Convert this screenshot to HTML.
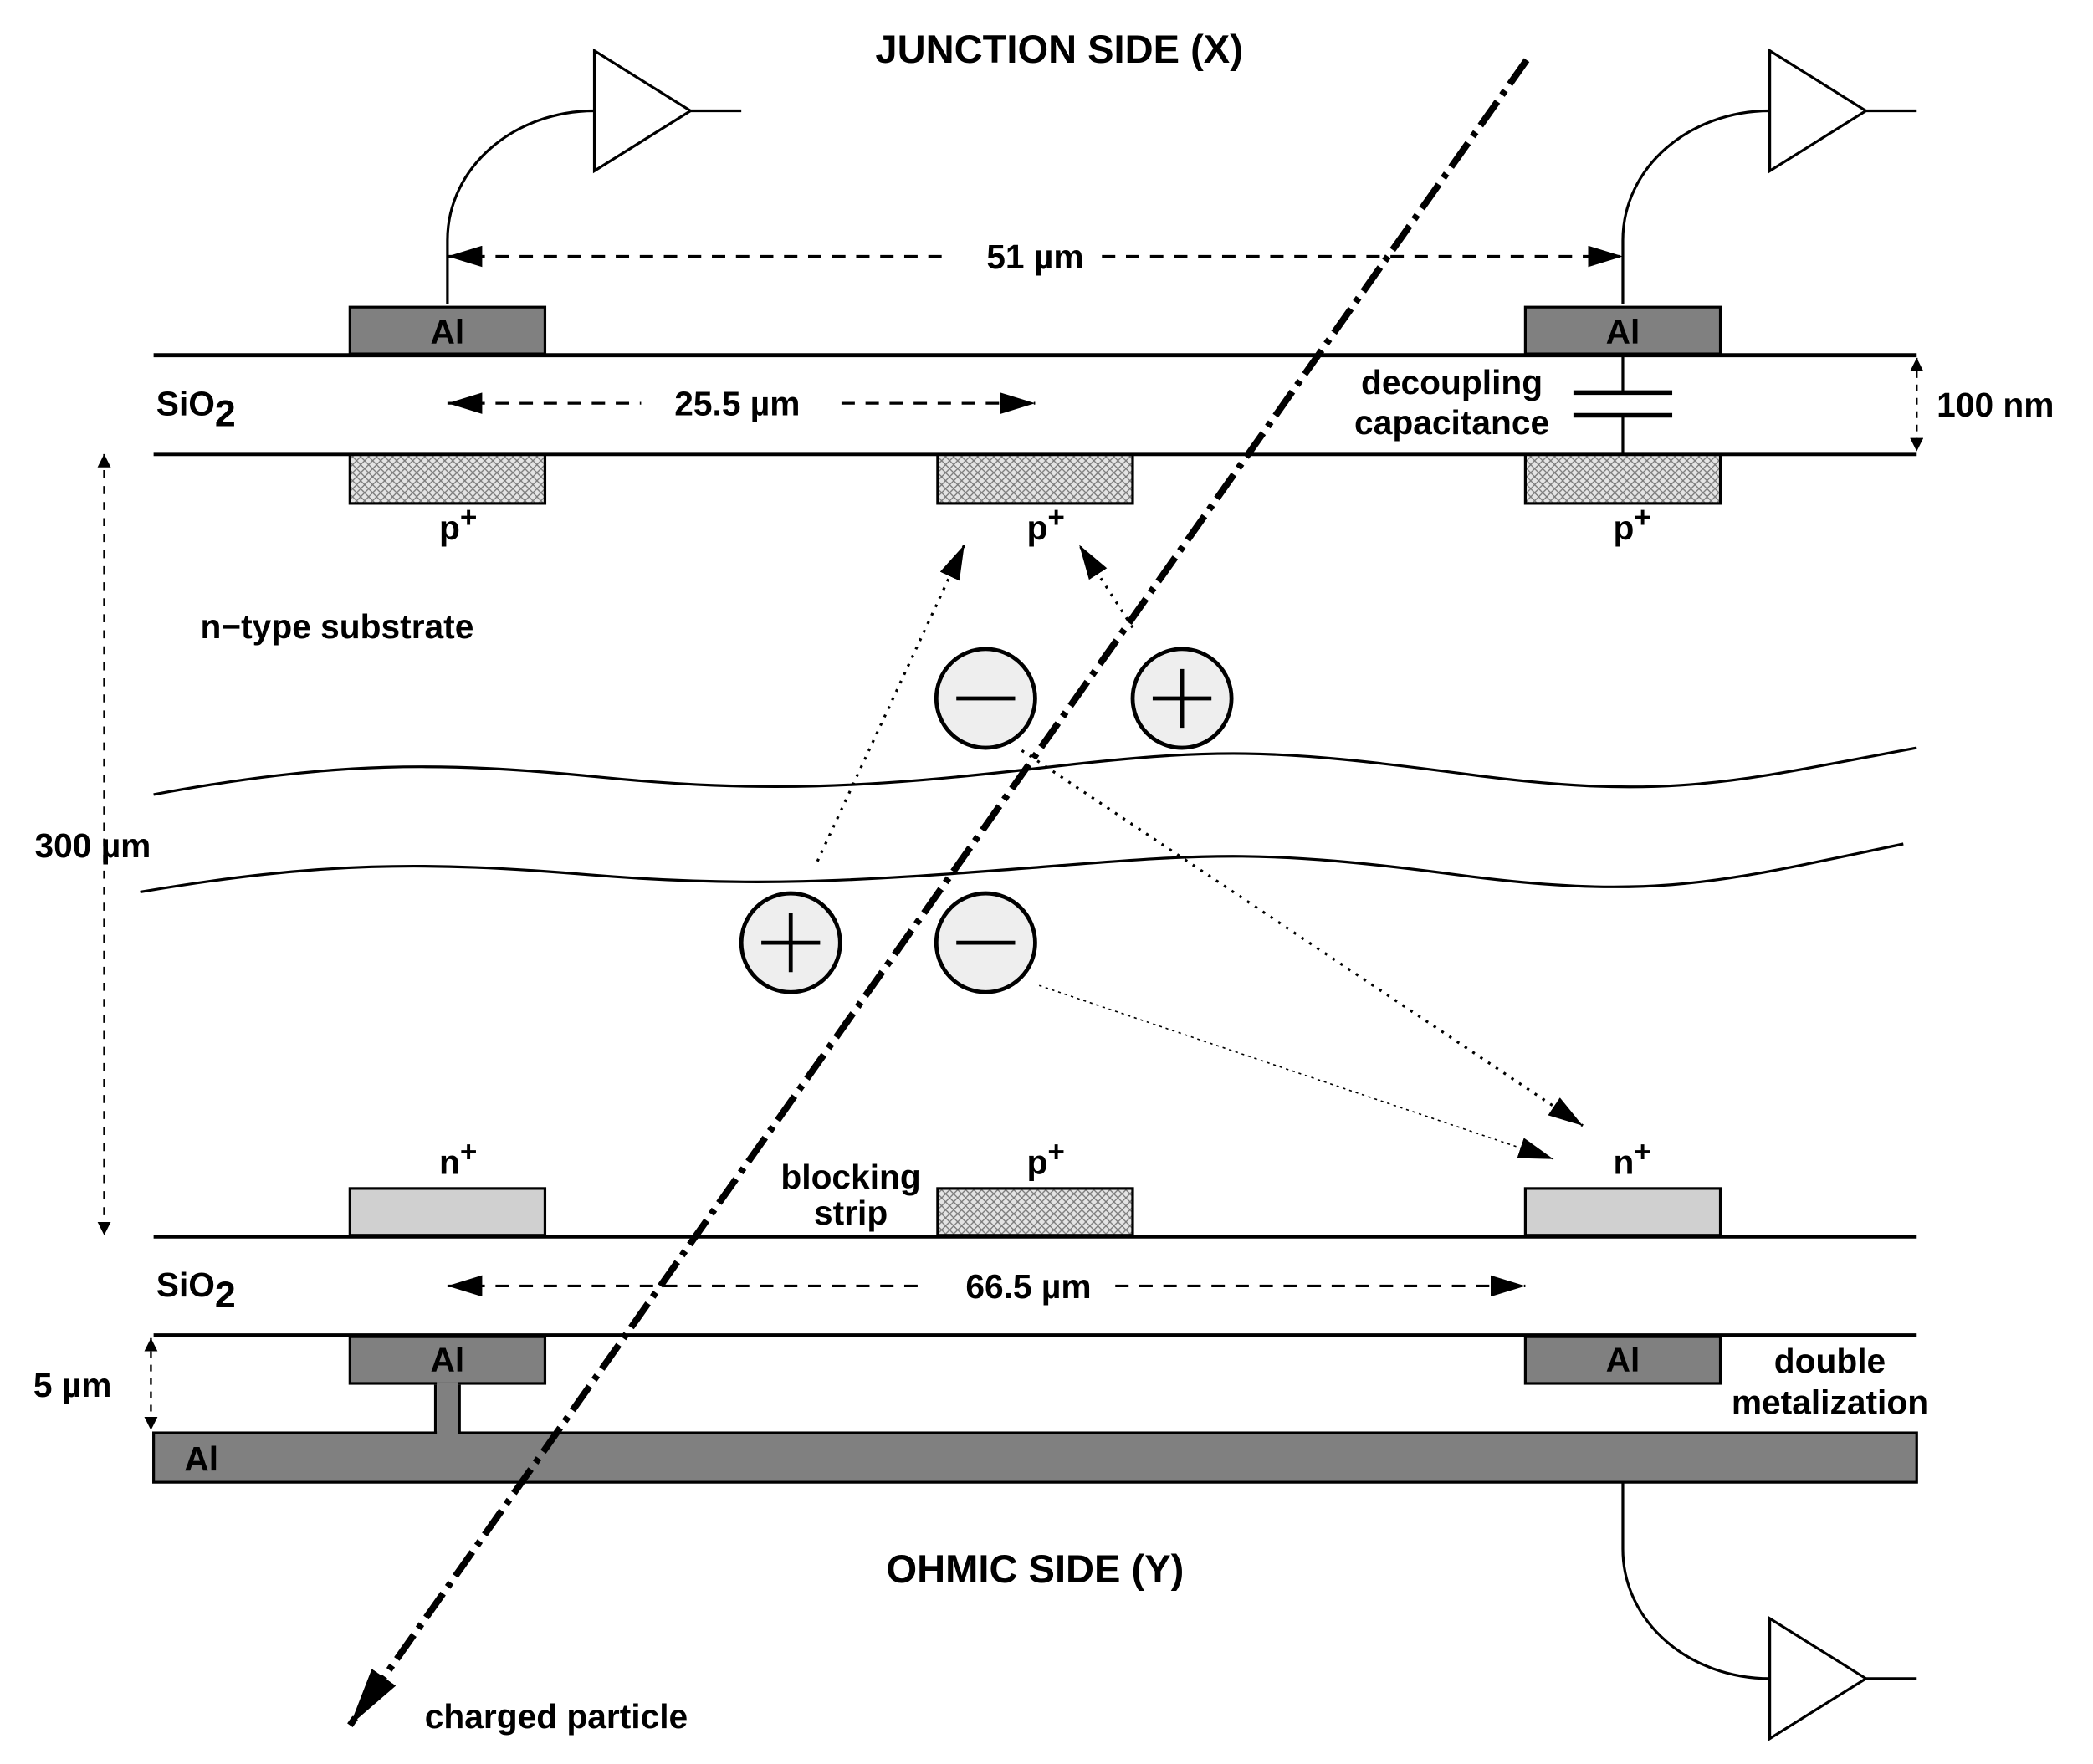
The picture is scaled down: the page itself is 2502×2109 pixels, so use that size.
<!DOCTYPE html>
<html><head><meta charset="utf-8"><style>
html,body{margin:0;padding:0;background:#fff}
svg{display:block}
text{font-family:"Liberation Sans",sans-serif;font-weight:bold;font-size:25.5px;fill:#000}
</style></head><body>
<svg width="2502" height="2109" viewBox="0 0 1567 1321" preserveAspectRatio="none" xmlns="http://www.w3.org/2000/svg">
<defs>
<pattern id="hatch" width="6" height="6" patternUnits="userSpaceOnUse">
<rect width="6" height="6" fill="#e4e4e4"/>
<path d="M0,0L6,6M6,0L0,6" stroke="#777" stroke-width="0.8"/>
</pattern>
<marker id="ab" markerWidth="44" markerHeight="22" refX="44" refY="11" orient="auto" markerUnits="userSpaceOnUse" viewBox="0 0 44 22">
<path d="M0,0L44,11L0,22z" fill="#000"/></marker>
<marker id="am" markerWidth="26" markerHeight="16" refX="26" refY="8" orient="auto" markerUnits="userSpaceOnUse" viewBox="0 0 26 16">
<path d="M0,0L26,8L0,16z" fill="#000"/></marker>
<marker id="amr" markerWidth="26" markerHeight="16" refX="0" refY="8" orient="auto" markerUnits="userSpaceOnUse" viewBox="0 0 26 16">
<path d="M26,0L0,8L26,16z" fill="#000"/></marker>
<marker id="as" markerWidth="10" markerHeight="10" refX="10" refY="5" orient="auto" markerUnits="userSpaceOnUse" viewBox="0 0 10 10">
<path d="M0,0L10,5L0,10z" fill="#000"/></marker>
<marker id="asr" markerWidth="10" markerHeight="10" refX="0" refY="5" orient="auto" markerUnits="userSpaceOnUse" viewBox="0 0 10 10">
<path d="M10,0L0,5L10,10z" fill="#000"/></marker>
</defs>

<text x="793" y="47" text-anchor="middle" style="font-size:29.5px">JUNCTION SIDE (X)</text>
<text x="775" y="1185" text-anchor="middle" style="font-size:29.5px">OHMIC SIDE (Y)</text>

<g fill="none" stroke="#000" stroke-width="2">
<path d="M445,38L445,128L517,83z"/><path d="M517,83H555"/>
<path d="M335,228V180C335,125 385,83 445,83"/>
<path d="M1325,38L1325,128L1397,83z"/><path d="M1397,83H1435"/>
<path d="M1215,228V180C1215,125 1265,83 1325,83"/>
<path d="M1325,1212L1325,1302L1397,1257z"/><path d="M1397,1257H1435"/>
<path d="M1215,1110V1160C1215,1215 1265,1257 1325,1257"/>
</g>

<g stroke="#000" stroke-width="2" stroke-dasharray="10,8" fill="none">
<path d="M335,192H705" marker-start="url(#amr)"/><path d="M825,192H1215" marker-end="url(#am)"/>
<path d="M335,302H480" marker-start="url(#amr)"/><path d="M630,302H775" marker-end="url(#am)"/>
<path d="M335,963H695" marker-start="url(#amr)"/><path d="M835,963H1142" marker-end="url(#am)"/>
<path d="M78,340V925" marker-start="url(#asr)" marker-end="url(#as)" stroke-width="1.5" stroke-dasharray="6,6"/>
<path d="M1435,268V338" marker-start="url(#asr)" marker-end="url(#as)" stroke-width="1.5" stroke-dasharray="5,5"/>
<path d="M113,1002V1071" marker-start="url(#asr)" marker-end="url(#as)" stroke-width="1.5" stroke-dasharray="5,5"/>
</g>
<text x="775" y="201" text-anchor="middle">51  µm</text>
<text x="552" y="311" text-anchor="middle">25.5 µm</text>
<text x="770" y="972" text-anchor="middle">66.5 µm</text>
<text x="1450" y="312">100 nm</text>
<text x="26" y="642">300  µm</text>
<text x="25" y="1046">5  µm</text>

<g stroke="#000" stroke-width="2">
<rect x="262" y="230" width="146" height="35" fill="#808080"/>
<rect x="1142" y="230" width="146" height="35" fill="#808080"/>
<rect x="262" y="340" width="146" height="37" fill="url(#hatch)"/>
<rect x="702" y="340" width="146" height="37" fill="url(#hatch)"/>
<rect x="1142" y="340" width="146" height="37" fill="url(#hatch)"/>
</g>
<path d="M115,266H1435M115,340H1435" stroke="#000" stroke-width="3"/>
<path d="M1215,266V294M1215,311V340" stroke="#000" stroke-width="2"/>
<path d="M1178,294H1252M1178,311H1252" stroke="#000" stroke-width="3.5"/>
<text x="335" y="257" text-anchor="middle">Al</text>
<text x="1215" y="257" text-anchor="middle">Al</text>
<text x="117" y="311">SiO<tspan dy="8" style="font-size:28px">2</tspan></text>
<text x="1087" y="295" text-anchor="middle">decoupling</text>
<text x="1087" y="325" text-anchor="middle">capacitance</text>
<text x="343" y="404" text-anchor="middle">p<tspan dy="-9" style="font-size:22px">+</tspan></text>
<text x="783" y="404" text-anchor="middle">p<tspan dy="-9" style="font-size:22px">+</tspan></text>
<text x="1222" y="404" text-anchor="middle">p<tspan dy="-9" style="font-size:22px">+</tspan></text>
<text x="150" y="478">n−type substrate</text>

<g fill="none" stroke="#000" stroke-width="2">
<path d="M115,595C250,570 330,570 450,582S650,590 780,575S950,560 1100,580S1300,585 1435,560"/>
<path d="M105,668C240,645 320,645 440,655S640,660 770,650S940,635 1090,655S1290,660 1425,632"/>
</g>

<g fill="none" stroke="#000" stroke-width="2" stroke-dasharray="2,5">
<path d="M612,645L722,408" marker-end="url(#am)"/>
<path d="M848,470L808,408" marker-end="url(#am)"/>
<path d="M765,562L1185,843" marker-end="url(#am)"/>
<path d="M778,738L1163,868" marker-end="url(#am)" stroke-width="1" stroke-dasharray="2,3"/>
</g>

<g stroke="#000" stroke-width="3" fill="#eee">
<circle cx="738" cy="523" r="37"/><circle cx="885" cy="523" r="37"/>
<circle cx="592" cy="706" r="37"/><circle cx="738" cy="706" r="37"/>
</g>
<g stroke="#000" stroke-width="3">
<path d="M716,523H760M863,523H907M885,501V545M570,706H614M592,684V728M716,706H760"/>
</g>

<g stroke="#000" stroke-width="2">
<rect x="262" y="890" width="146" height="35" fill="#d0d0d0"/>
<rect x="1142" y="890" width="146" height="35" fill="#d0d0d0"/>
<rect x="702" y="890" width="146" height="35" fill="url(#hatch)"/>
<rect x="262" y="1001" width="146" height="35" fill="#808080"/>
<rect x="1142" y="1001" width="146" height="35" fill="#808080"/>
<rect x="115" y="1073" width="1320" height="37" fill="#808080"/>
</g>
<path d="M326,1037V1074M344,1037V1074" stroke="#000" stroke-width="2"/>
<rect x="327" y="1035" width="16" height="40" fill="#808080"/>
<path d="M115,926H1435M115,1000H1435" stroke="#000" stroke-width="3"/>
<text x="343" y="879" text-anchor="middle">n<tspan dy="-9" style="font-size:22px">+</tspan></text>
<text x="783" y="879" text-anchor="middle">p<tspan dy="-9" style="font-size:22px">+</tspan></text>
<text x="1222" y="879" text-anchor="middle">n<tspan dy="-9" style="font-size:22px">+</tspan></text>
<text x="637" y="890" text-anchor="middle">blocking</text>
<text x="637" y="917" text-anchor="middle">strip</text>
<text x="117" y="971">SiO<tspan dy="8" style="font-size:28px">2</tspan></text>
<text x="335" y="1027" text-anchor="middle">Al</text>
<text x="1215" y="1027" text-anchor="middle">Al</text>
<text x="138" y="1101">Al</text>
<text x="1370" y="1028" text-anchor="middle">double</text>
<text x="1370" y="1059" text-anchor="middle">metalization</text>

<path d="M1143,45L262,1292" stroke="#000" stroke-width="5" stroke-dasharray="22,6,4,6" fill="none" marker-end="url(#ab)"/>
<text x="318" y="1294">charged particle</text>
</svg>
</body></html>
